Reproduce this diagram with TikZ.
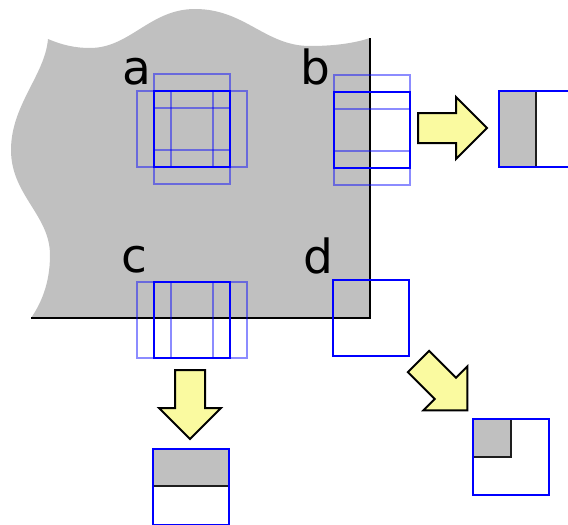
\documentclass[tikz,border=0pt]{standalone}
\usepackage{fontspec}
\setmainfont{DejaVu Sans}
\definecolor{paper}{RGB}{192,192,192}
\definecolor{arrowfill}{RGB}{250,250,160}
\tikzset{
  sq/.style={draw=blue, line width=2.2pt, minimum size=76pt, inner sep=0pt, anchor=north west},
  ghost/.style={sq, draw opacity=0.45},
  lbl/.style={anchor=base west, inner sep=0pt, font=\fontsize{47}{47}\selectfont},
  edge/.style={draw=black, line width=1.6pt},
  cut/.style={draw={rgb,255:red,30;green,30;blue,30}, line width=1.6pt},
  bigarrow/.pic={
    \draw[line width=2pt, fill=arrowfill, line join=miter]
      (0,-15) -- (38,-15) -- (38,-31) -- (69,0) -- (38,31) -- (38,15) -- (0,15) -- cycle;
  }
}
\begin{document}
\begin{tikzpicture}[x=1pt, y=-1pt]
\clip (0,0) rectangle (568,525);
% gray region
\fill[paper] (48,39) .. controls (62,45) and (75,48) .. (90,48)
  .. controls (130,48) and (150,9) .. (195,9)
  .. controls (245,9) and (265,46) .. (310,46)
  .. controls (335,46) and (355,43) .. (370,38)
  -- (370,318) -- (31,318)
  .. controls (40,305) and (50,285) .. (50,255)
  .. controls (50,215) and (11,195) .. (11,150)
  .. controls (11,105) and (45,75) .. (48,39) -- cycle;
\coordinate (tr) at (370,38);
\coordinate (br) at (370,318);
\coordinate (bl) at (31,318);
\draw[edge] (tr) -- (br) -- (bl);
% labels
\node[lbl] (la) at (122,84) {a};
\node[lbl] (lb) at (300.5,84) {b};
\node[lbl] (lc) at (121.5,272) {c};
\node[lbl] (ld) at (303,273) {d};
% case a
\node[ghost] (a1) at (136,90) {};
\node[ghost] (a2) at (170,90) {};
\node[ghost] (a3) at (153,73) {};
\node[ghost] (a4) at (153,107) {};
\node[sq] (a) at (153,90) {};
% case b
\node[ghost] (b1) at (333,74) {};
\node[ghost] (b2) at (333,108) {};
\node[sq] (b) at (333,91) {};
% case c
\node[ghost] (c1) at (136,281) {};
\node[ghost] (c2) at (170,281) {};
\node[sq] (c) at (153,281) {};
% case d
\node[sq] (d) at (332,279) {};
% arrows
\pic[shift={(418,128)}] (arb) {bigarrow};
\pic[shift={(190,370)}, rotate=-90] (arc) {bigarrow};
\pic[shift={(418.5,361.5)}, rotate=-45] (ard) {bigarrow};
% result b
\fill[paper] (498,90) rectangle (536,166);
\draw[cut] (536,90) -- (536,166);
\node[sq] (rb) at (498,90) {};
% result c
\fill[paper] (152,448) rectangle (228,486);
\draw[cut] (152,486) -- (228,486);
\node[sq] (rc) at (152,448) {};
% result d
\fill[paper] (472,418) rectangle (511,457);
\draw[cut] (511,418) -- (511,457) -- (472,457);
\node[sq] (rd) at (472,418) {};
\end{tikzpicture}
\end{document}
